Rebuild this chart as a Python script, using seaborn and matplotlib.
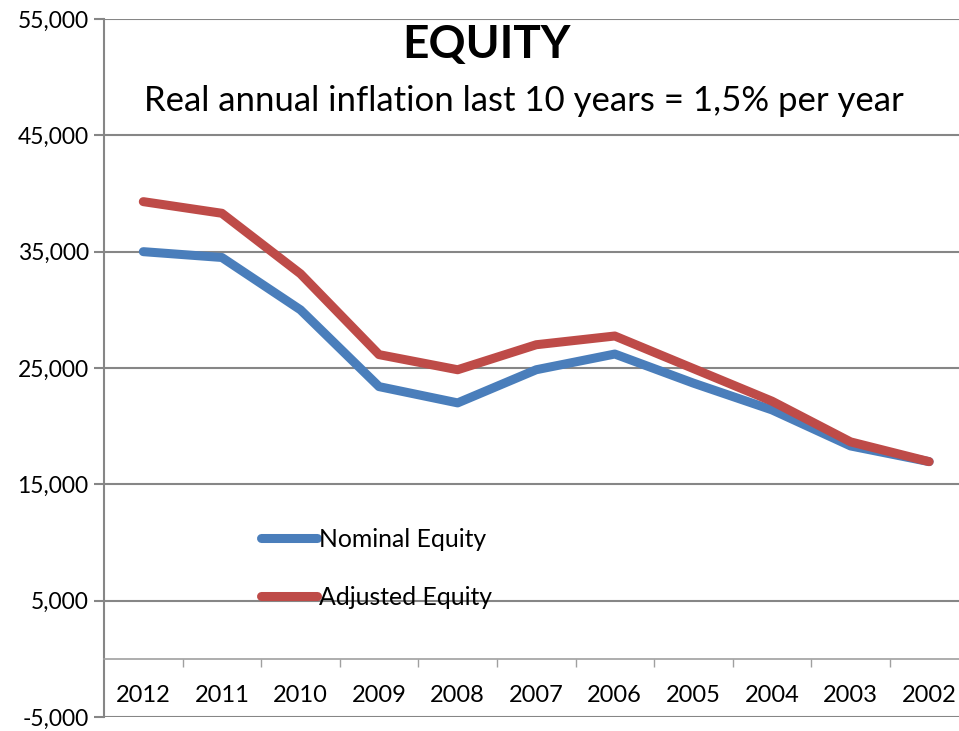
import matplotlib
matplotlib.use("Agg")
import matplotlib.pyplot as plt
import seaborn as sns
import pandas as pd
from matplotlib.ticker import FixedLocator, FuncFormatter

years = ["2012", "2011", "2010", "2009", "2008", "2007", "2006", "2005", "2004", "2003", "2002"]
nominal = [35000, 34500, 30000, 23400, 22000, 24850, 26200, 23700, 21400, 18300, 16950]
adjusted = [39300, 38300, 33100, 26150, 24850, 27000, 27750, 24950, 22150, 18650, 16950]
series_names = ["Nominal Equity", "Adjusted Equity"]
y_ticks = [-5000, 5000, 15000, 25000, 35000, 45000, 55000]
title = "EQUITY"
subtitle = "Real annual inflation last 10 years = 1,5% per year"

df = pd.DataFrame({
    "year": years * 2,
    "value": nominal + adjusted,
    "series": [series_names[0]] * len(years) + [series_names[1]] * len(years),
})

sns.set_style("white")
plt.rcParams["font.family"] = ["Lato", "DejaVu Sans"]
plt.rcParams["text.color"] = "black"
plt.rcParams["xtick.color"] = "black"
plt.rcParams["ytick.color"] = "black"

fig = plt.figure(figsize=(9.59, 7.31), dpi=100)
W, H = 959, 731
ax = fig.add_axes([104 / W, (H - 717) / H, (W - 104) / W, (717 - 19) / H])

palette = {series_names[0]: "#4A7EBB", series_names[1]: "#BE4B48"}
sns.lineplot(data=df, x="year", y="value", hue="series", palette=palette,
             linewidth=6.5, ax=ax, sort=False, legend=True)
for ln in ax.lines:
    ln.set_solid_capstyle("round")
    ln.set_solid_joinstyle("round")

ax.set_ylim(-5000, 55000)
ax.set_xlim(-0.5, 10.38)
ax.yaxis.set_major_locator(FixedLocator(y_ticks))
ax.yaxis.set_major_formatter(FuncFormatter(lambda v, p: f"{int(v):,}"))
ax.grid(axis="y", color="#868686", linewidth=1.5)
ax.grid(axis="x", visible=False)
ax.set_axisbelow(True)
ax.set_xlabel("")
ax.set_ylabel("")

for s in ["top", "right"]:
    ax.spines[s].set_visible(False)
ax.spines["left"].set_color("#868686")
ax.spines["left"].set_linewidth(1.5)
ax.spines["bottom"].set_position(("data", 0))
ax.spines["bottom"].set_color("#a0a0a0")
ax.spines["bottom"].set_linewidth(1.2)

ax.tick_params(axis="y", which="major", direction="out", length=7, width=1.5,
               color="#868686", labelcolor="black", labelsize=16.5, pad=4, left=True)
ax.tick_params(axis="x", which="major", length=0, labelsize=17, labelcolor="black", pad=19)
ax.set_xticks(range(len(years)))
ax.set_xticks([i + 0.5 for i in range(len(years) - 1)], minor=True)
ax.tick_params(axis="x", which="minor", direction="out", length=6, width=1.0,
               color="#a0a0a0", bottom=True)

fig.text(486 / W, 1 - 45 / H, title, ha="center", va="center",
         fontsize=33, fontweight="bold", color="black")
fig.text(524 / W, 1 - 101 / H, subtitle, ha="center", va="center", fontsize=25,
         color="black")

leg = ax.legend(loc="upper left", bbox_to_anchor=(147 / (W - 104), (717 - 518) / (717 - 19)),
                frameon=False, fontsize=17.8, handlelength=2.25, handletextpad=0.1,
                labelspacing=1.42, borderaxespad=0)
for h in leg.get_lines():
    h.set_linewidth(6.5)
    h.set_solid_capstyle("round")
for t in leg.get_texts():
    t.set_color("black")

fig.savefig("out.png", dpi=100)
